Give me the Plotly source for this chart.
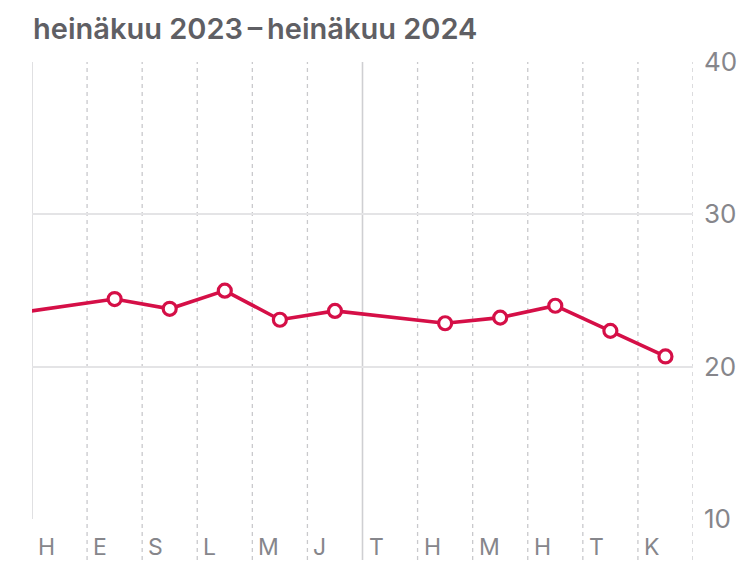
import plotly.graph_objects as go

# Data
month_labels = ["H", "E", "S", "L", "M", "J", "T", "H", "M", "H", "T", "K"]
# month index for data points; -1 = kesäkuu 2023 (off-chart, line enters from left)
point_months = [-1, 1, 2, 3, 4, 5, 7, 8, 9, 10, 11]
point_values = [23.4, 24.44, 23.8, 24.99, 23.08, 23.66, 22.85, 23.22, 24.0, 22.35, 20.67]
y_ticks = [10, 20, 30, 40]
title_text = "heinäkuu 2023\u2009–\u2009heinäkuu 2024"

RED = "#D50F47"
GRID = "#e4e4e6"
VGRID = "#c9c9cc"
LABEL = "#86868b"
FONT = "Inter, Roboto, sans-serif"

# page is drawn with an 8px body margin
OFF = 8
W, H = 750 - OFF, 586 - OFF
L, R, T, B = 32 - OFF, 693 - OFF, 62 - OFF, 519 - OFF
plot_h = B - T
plot_w = R - L

fig = go.Figure()

fig.add_trace(go.Scatter(
    x=[m + 0.5 for m in point_months],
    y=point_values,
    mode="lines+markers",
    line=dict(color=RED, width=3.6),
    marker=dict(size=13, color="white", line=dict(color=RED, width=3.2)),
    cliponaxis=True,
    hoverinfo="skip",
))

shapes = []
shapes.append(dict(type="line", xref="x", yref="paper", x0=0, x1=0, y0=0, y1=1,
                   line=dict(color="#d6d6d9", width=1.5), layer="below"))
ext = -(560 - 519) / plot_h
for i in range(1, 13):
    if i == 6:
        shapes.append(dict(type="line", xref="x", yref="paper", x0=i, x1=i, y0=ext, y1=1,
                           line=dict(color="#cfcfd2", width=1.6), layer="below"))
    else:
        shapes.append(dict(type="line", xref="x", yref="paper", x0=i, x1=i, y0=ext, y1=1,
                           line=dict(color=VGRID, width=1.3, dash="4px,4px"), layer="below"))

annotations = []
for i, lab in enumerate(month_labels):
    annotations.append(dict(x=i, y=-(547 - 519) / plot_h, xref="x", yref="paper",
                            text=lab, showarrow=False, xanchor="left", yanchor="middle",
                            xshift=4, font=dict(family=FONT, size=23, color=LABEL)))
annotations.append(dict(x=(33 - 32 - 2) / plot_w, y=1 + (62 - 28) / plot_h, xref="paper", yref="paper",
                        text=title_text, showarrow=False, xanchor="left", yanchor="middle",
                        font=dict(family=FONT, size=29, color="#5f5f64", weight=600)))

fig.update_layout(
    width=W, height=H,
    margin=dict(l=L, r=W - R, t=T, b=H - B, pad=0),
    paper_bgcolor="white", plot_bgcolor="white",
    showlegend=False,
    shapes=shapes,
    annotations=annotations,
    xaxis=dict(range=[0, 12], showgrid=False, zeroline=False, showticklabels=False,
               showline=False, fixedrange=True),
    yaxis=dict(range=[10, 40], side="right", tickvals=y_ticks, ticktext=[str(v) for v in y_ticks],
               showgrid=True, gridcolor=GRID, gridwidth=1.5, zeroline=False, showline=False,
               ticks="", ticklabelstandoff=10,
               tickfont=dict(family=FONT, size=26, color=LABEL), fixedrange=True),
)

fig.write_html("out.html")
